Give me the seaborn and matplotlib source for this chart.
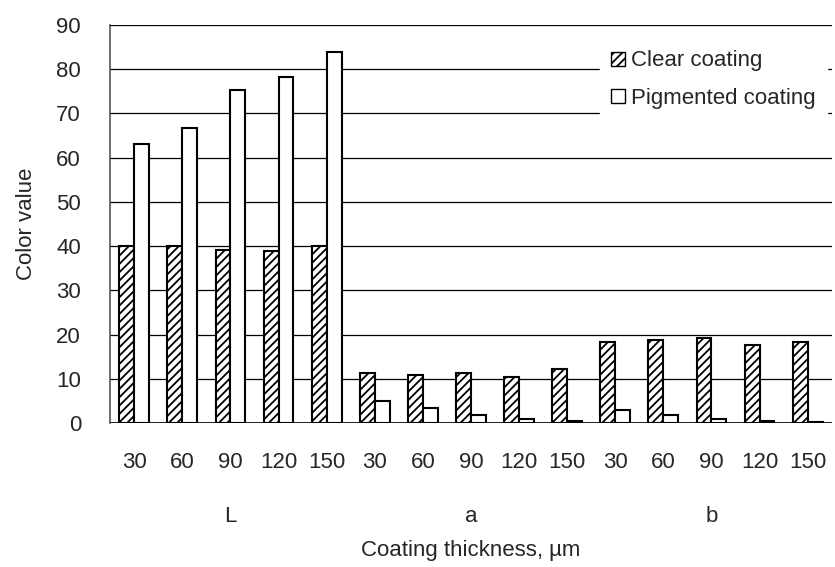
import pandas as pd
import numpy as np
import matplotlib
matplotlib.use("Agg")
import matplotlib.pyplot as plt
import seaborn as sns

# data
groups = ["L", "a", "b"]
thickness = ["30", "60", "90", "120", "150"]
clear = [40.0, 40.0, 39.2, 39.0, 40.0,
         11.2, 10.8, 11.2, 10.4, 12.1,
         18.2, 18.7, 19.2, 17.6, 18.2]
pigmented = [63.0, 66.7, 75.4, 78.3, 83.8,
             4.9, 3.3, 1.7, 0.8, 0.4,
             2.9, 1.7, 0.8, 0.4, 0.3]

cats = [g + t for g in groups for t in thickness]
df = pd.DataFrame({
    "cat": cats * 2,
    "value": clear + pigmented,
    "coating": ["Clear coating"] * 15 + ["Pigmented coating"] * 15,
})

sns.set_style("white")
plt.rcParams["font.family"] = ["Liberation Sans", "DejaVu Sans"]
plt.rcParams["hatch.linewidth"] = 1.3
plt.rcParams["hatch.color"] = "black"
fs = 16

fig = plt.figure(figsize=(8.35, 5.67), dpi=100)
ax = fig.add_axes([0.132, 0.254, 0.864, 0.702])

sns.barplot(data=df, x="cat", y="value", hue="coating", order=cats,
            palette=["white", "white"], edgecolor="black", linewidth=1.5,
            width=0.62, ax=ax, legend=True)

# hatch the clear-coating bars
n = len(cats)
for bar in ax.patches[:n]:
    bar.set_hatch("////")

ax.set_ylim(0, 90)
ax.set_yticks(range(0, 91, 10))
ax.set_xlim(-0.5, n - 0.5)
ax.yaxis.grid(True, color="black", linewidth=0.9)
ax.set_axisbelow(True)
for s in ["top", "right", "bottom"]:
    ax.spines[s].set_visible(False)
ax.spines["left"].set_color("#555555")
ax.spines["left"].set_linewidth(1.2)
ax.axhline(0, color="black", linewidth=1.2, zorder=3)
ax.axhline(90, color="black", linewidth=1.2, zorder=3)

ax.set_xticks(range(n))
ax.set_xticklabels(thickness * 3, fontsize=fs)
ax.tick_params(axis="x", length=0, pad=21)
ax.tick_params(axis="y", length=0, labelsize=fs, pad=21)
ax.set_ylabel("Color value", fontsize=fs, labelpad=14)
ax.set_xlabel("Coating thickness, µm", fontsize=fs, labelpad=48)

for k, g in enumerate(groups):
    ax.text(k * 5 + 2, -0.235, g, transform=ax.get_xaxis_transform(),
            ha="center", va="center", fontsize=fs)

leg = ax.legend(loc="upper right", bbox_to_anchor=(1.0, 0.975), frameon=True,
                fontsize=fs, handlelength=0.6, handleheight=0.6,
                handletextpad=0.3, labelspacing=0.75, borderaxespad=0.2,
                borderpad=0.5)
leg.get_frame().set_edgecolor("white")
leg.get_frame().set_facecolor("white")
leg.get_frame().set_alpha(1)
for h in leg.legend_handles:
    h.set_linewidth(1.0)
leg.legend_handles[0].set_hatch("////")

fig.savefig("out.png", dpi=100)
